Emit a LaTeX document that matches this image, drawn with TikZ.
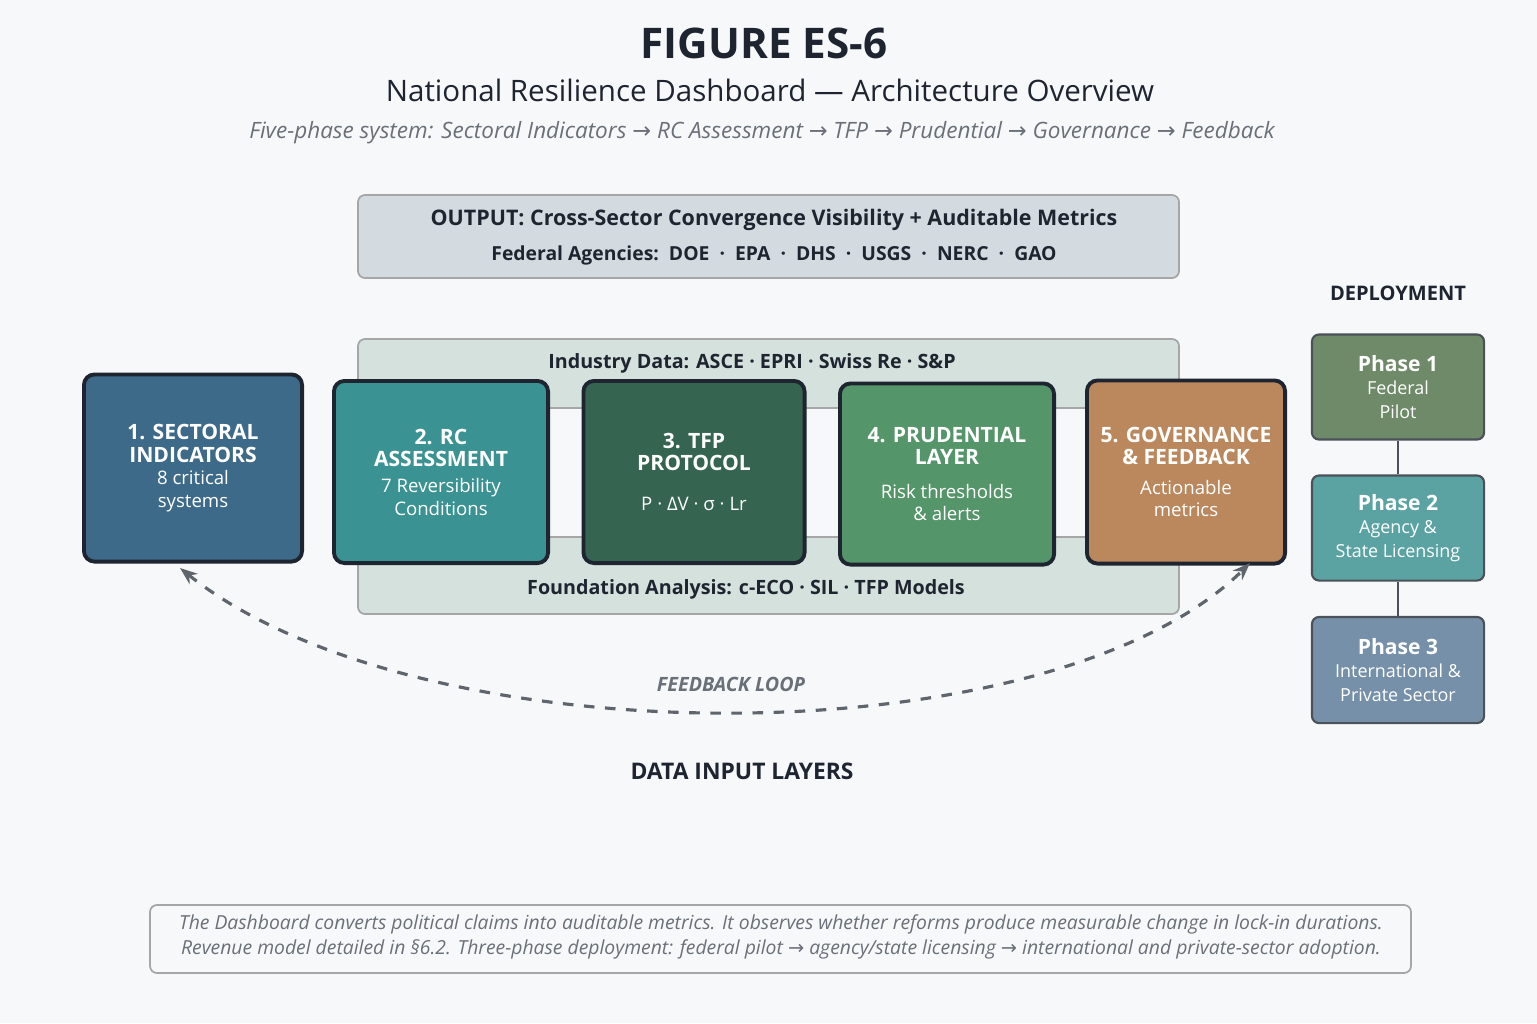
\documentclass[tikz,border=0pt]{standalone}
\usepackage{fontspec}
\setmainfont{Open Sans}
\newfontfamily\dejavu{DejaVu Sans}
\usetikzlibrary{arrows.meta}
\definecolor{bgc}{HTML}{F7F8FA}
\definecolor{inkc}{HTML}{1E2530}
\definecolor{grayt}{HTML}{6A7078}
\definecolor{outc}{HTML}{D3DBE0}
\definecolor{bandc}{HTML}{D4E1DC}
\definecolor{sectc}{HTML}{3E6A8A}
\definecolor{rcc}{HTML}{3A9392}
\definecolor{tfpc}{HTML}{356550}
\definecolor{prudc}{HTML}{55956A}
\definecolor{govc}{HTML}{BB885E}
\definecolor{ph1c}{HTML}{6F8A69}
\definecolor{ph2c}{HTML}{5BA3A2}
\definecolor{ph3c}{HTML}{7590A8}
\tikzset{
  band/.style={draw=gray!70, line width=0.5pt, rounded corners=2pt},
  phase/.style={draw=inkc, line width=1.1pt, rounded corners=3pt, text=white, align=center, font=\fontsize{5.3}{6.4}\selectfont},
  dep/.style={draw=inkc!80, line width=0.6pt, rounded corners=2pt, text=white, align=center, font=\fontsize{5.1}{6.6}\selectfont},
}
\newcommand{\hd}[1]{{\fontsize{6}{8.2}\selectfont\bfseries #1}}
\newcommand{\arr}{{\dejavu →}}
\begin{document}
\begin{tikzpicture}[x=0.01cm, y=-0.01cm]
\fill[bgc] (0,0) rectangle (1537,1023);
\useasboundingbox (0,0) rectangle (1537,1023);

% titles
\node[text=inkc, font=\fontsize{12}{13}\selectfont\bfseries] (title) at (764,43) {FIGURE ES-6};
\node[text=inkc, font=\fontsize{8.4}{9}\selectfont] (sub) at (770,90) {National Resilience Dashboard — Architecture Overview};
\node[text=grayt, font=\fontsize{6.4}{7}\selectfont\itshape] (flow) at (762,133) {Five-phase system: Sectoral Indicators \arr\ RC Assessment \arr\ TFP \arr\ Prudential \arr\ Governance \arr\ Feedback};

% output
\draw[band, fill=outc] (358,195) rectangle (1179,278);
\node[text=inkc, font=\fontsize{6.1}{7}\selectfont\bfseries] (out) at (774,220) {OUTPUT: Cross-Sector Convergence Visibility + Auditable Metrics};
\node[text=inkc, font=\fontsize{5.5}{6}\selectfont\bfseries] (fed) at (774,255) {Federal Agencies:\ \ DOE\ \ ·\ \ EPA\ \ ·\ \ DHS\ \ ·\ \ USGS\ \ ·\ \ NERC\ \ ·\ \ GAO};

% data layers
\draw[band, fill=bandc] (358,339) rectangle (1179,408);
\draw[band, fill=bandc] (358,537) rectangle (1179,614);
\node[text=inkc, font=\fontsize{5.6}{6}\selectfont\bfseries] (ind) at (752,363) {Industry Data: ASCE · EPRI · Swiss Re · S\&P};
\node[text=inkc, font=\fontsize{5.6}{6}\selectfont\bfseries] (fnd) at (746,589) {Foundation Analysis: c-ECO · SIL · TFP Models};

% phases
\node[phase, fill=sectc, minimum width=2.18cm, minimum height=1.87cm] (p1) at (193,468) {\hd{1. SECTORAL}\\\hd{INDICATORS}\\8 critical\\systems};
\node[phase, fill=rcc, minimum width=2.14cm, minimum height=1.82cm] (p2) at (441,472) {\hd{2. RC}\\\hd{ASSESSMENT}\\[1pt]7 Reversibility\\Conditions};
\node[phase, fill=tfpc, minimum width=2.21cm, minimum height=1.82cm] (p3) at (694,472) {\hd{3. TFP}\\\hd{PROTOCOL}\\[5pt]P · ΔV · σ · Lr};
\node[phase, fill=prudc, minimum width=2.14cm, minimum height=1.81cm] (p4) at (947,474) {\hd{4. PRUDENTIAL}\\\hd{LAYER}\\[3pt]Risk thresholds\\\& alerts};
\node[phase, fill=govc, minimum width=1.98cm, minimum height=1.83cm] (p5) at (1186,472) {\hd{5. GOVERNANCE}\\\hd{\& FEEDBACK}\\[2pt]Actionable\\metrics};

% feedback loop
\draw[dashed, line width=0.9pt, draw=grayt!90!black, {Stealth[length=5pt]}-{Stealth[length=5pt]}]
  (180,568) .. controls (420,760) and (1050,760) .. (1250,563);
\node[text=grayt, font=\fontsize{5.6}{6}\selectfont\bfseries\itshape] (fbl) at (731,684) {FEEDBACK LOOP};
\node[text=inkc, font=\fontsize{6.5}{7}\selectfont\bfseries] (dil) at (742,771) {DATA INPUT LAYERS};

% deployment
\node[text=inkc, font=\fontsize{5.7}{6}\selectfont\bfseries] (dep) at (1398,293) {DEPLOYMENT};
\node[dep, fill=ph1c, minimum width=1.72cm, minimum height=1.05cm] (d1) at (1398,387) {{\fontsize{6}{7}\selectfont\bfseries Phase 1}\\Federal\\Pilot};
\node[dep, fill=ph2c, minimum width=1.72cm, minimum height=1.05cm] (d2) at (1398,528) {{\fontsize{6}{7}\selectfont\bfseries Phase 2}\\Agency \&\\State Licensing};
\node[dep, fill=ph3c, minimum width=1.72cm, minimum height=1.06cm] (d3) at (1398,670) {{\fontsize{6}{7}\selectfont\bfseries Phase 3}\\International \&\\Private Sector};
\draw[inkc!80, line width=0.6pt] (d1) -- (d2);
\draw[inkc!80, line width=0.6pt] (d2) -- (d3);

% note
\draw[band, fill=bgc] (150,905) rectangle (1411,973);
\node[text=grayt, align=center, font=\fontsize{5.5}{7}\selectfont\itshape] (note) at (781,937) {The Dashboard converts political claims into auditable metrics. It observes whether reforms produce measurable change in lock-in durations.\\Revenue model detailed in §6.2. Three-phase deployment: federal pilot \arr\ agency/state licensing \arr\ international and private-sector adoption.};
\end{tikzpicture}
\end{document}
